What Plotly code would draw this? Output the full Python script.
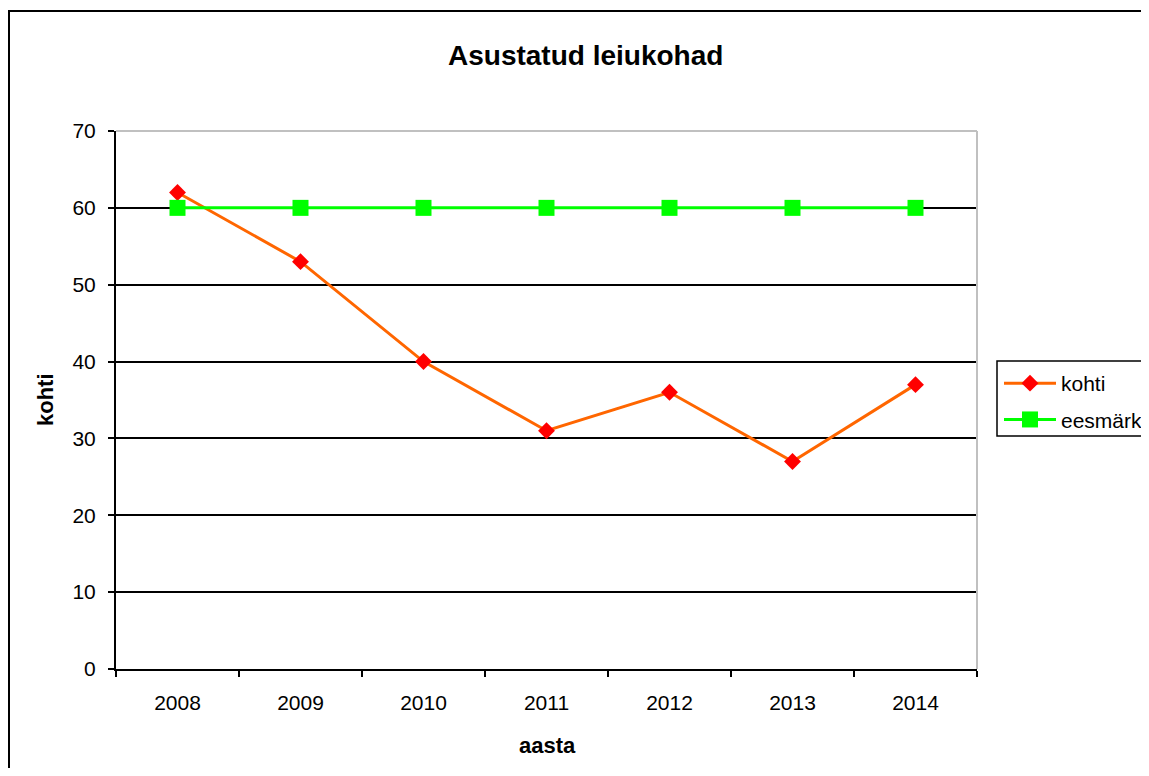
import plotly.graph_objects as go

years = ["2008", "2009", "2010", "2011", "2012", "2013", "2014"]
kohti = [62, 53, 40, 31, 36, 27, 37]
eesmark = [60, 60, 60, 60, 60, 60, 60]
y_ticks = [0, 10, 20, 30, 40, 50, 60, 70]

FONT = "Liberation Sans, Arial, sans-serif"

fig = go.Figure()
fig.add_trace(go.Scatter(
    x=years, y=kohti, name="kohti", mode="lines+markers", legendgroup="a",
    line=dict(color="#FF6600", width=3),
    marker=dict(symbol="diamond", size=13, color="#FF0000"),
))
fig.add_trace(go.Scatter(
    x=years, y=eesmark, name="eesmärk", mode="lines+markers", legendgroup="b",
    line=dict(color="#00FF00", width=3),
    marker=dict(symbol="square", size=16, color="#00FF00"),
))

# page body has an 8px margin; figure coordinates are screen - 8
OFF = 8
W, H = 1141, 760
L, T = 116 - OFF, 131 - OFF
R = W - (977 - OFF)
B = H - (669 - OFF)
pw = W - L - R
ph = H - T - B

def px_x(sx):
    return (sx - OFF - L) / pw

def px_y(sy):
    return (H - B - (sy - OFF)) / ph

fig.update_layout(
    width=W, height=H,
    margin=dict(l=L, r=R, t=T, b=B, autoexpand=False),
    paper_bgcolor="white", plot_bgcolor="white",
    font=dict(family=FONT, size=21, color="black"),
    showlegend=True,
    legend=dict(
        x=px_x(999), y=px_y(363), xanchor="left", yanchor="top",
        borderwidth=0, bgcolor="rgba(0,0,0,0)",
        font=dict(size=21, family=FONT), itemwidth=52, tracegroupgap=6,
    ),
    annotations=[
        dict(text="<b>Asustatud leiukohad</b>", x=px_x(585), y=px_y(56),
             xref="paper", yref="paper", showarrow=False,
             font=dict(size=28, family=FONT), xanchor="center", yanchor="middle"),
        dict(text="<b>aasta</b>", x=px_x(547), y=px_y(745),
             xref="paper", yref="paper", showarrow=False,
             font=dict(size=22, family=FONT), xanchor="center", yanchor="middle"),
        dict(text="<b>kohti</b>", x=px_x(45), y=px_y(400), textangle=-90,
             xref="paper", yref="paper", showarrow=False,
             font=dict(size=22, family=FONT), xanchor="center", yanchor="middle"),
    ],
    shapes=[
        dict(type="line", xref="paper", yref="paper", x0=0, x1=1, y0=1, y1=1,
             line=dict(color="#C0C0C0", width=2), layer="above"),
        dict(type="line", xref="paper", yref="paper", x0=1, x1=1, y0=0, y1=1,
             line=dict(color="#C0C0C0", width=2), layer="above"),
        dict(type="rect", xref="paper", yref="paper",
             x0=px_x(9), x1=px_x(1300), y0=px_y(11), y1=px_y(900),
             line=dict(color="black", width=2), layer="above"),
        dict(type="rect", xref="paper", yref="paper",
             x0=px_x(997), x1=px_x(1300), y0=px_y(361), y1=px_y(436),
             line=dict(color="black", width=1.5), layer="below"),
    ],
)

fig.update_xaxes(
    type="category", range=[-0.5, 6.5],
    tickson="boundaries", ticks="outside", ticklen=6, tickcolor="black", tickwidth=1.5,
    showline=True, linecolor="black", linewidth=2,
    showgrid=False, zeroline=False,
    tickfont=dict(size=21, family=FONT),
    ticklabelstandoff=14,
)
fig.update_yaxes(
    range=[0, 70], tickvals=y_ticks,
    ticks="outside", ticklen=6, tickcolor="black", tickwidth=1.5,
    showline=True, linecolor="black", linewidth=2,
    showgrid=True, gridcolor="black", gridwidth=1.5,
    zeroline=False,
    tickfont=dict(size=21, family=FONT),
    ticklabelstandoff=8,
)

fig.write_html("out.html")
